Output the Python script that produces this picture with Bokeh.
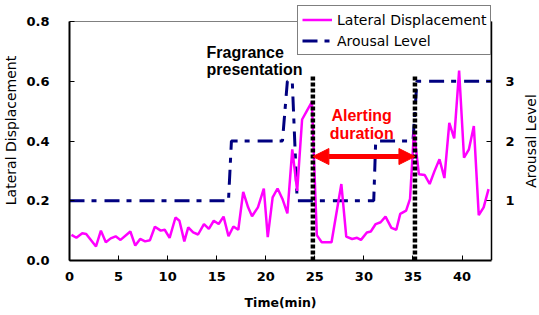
import math
from bokeh.plotting import figure
from bokeh.models import (Range1d, LinearAxis, FixedTicker, PrintfTickFormatter,
                          Legend, LegendItem, Label, Arrow, NormalHead)
from bokeh.embed import file_html
from bokeh.resources import INLINE

# ---- data ----
time_min = [0.2, 0.7, 1.3, 1.7, 2.7, 3.2, 3.7, 4.2, 4.7, 5.2,
            6.2, 6.7, 7.2, 7.7, 8.2, 8.7, 9.3, 9.7, 10.2, 10.8,
            11.2, 11.7, 12.1, 12.6, 13.1, 13.7, 14.2, 14.7, 15.2, 15.7,
            16.2, 16.7, 17.2, 17.7, 18.2, 18.6, 19.2, 19.8, 20.2, 20.7,
            21.2, 21.7, 22.2, 22.7, 23.2, 23.7, 24.2, 24.7, 25.2, 25.7,
            26.7, 27.7, 28.2, 28.8, 29.3, 29.7, 30.3, 30.7, 31.2, 31.7,
            32.2, 32.8, 33.3, 33.7, 34.3, 34.7, 35.1, 35.6, 36.2, 36.7,
            37.2, 37.7, 38.2, 38.7, 39.2, 39.7, 40.2, 40.7, 41.2, 41.7,
            42.2, 42.7]
lateral_disp = [0.086, 0.076, 0.091, 0.089, 0.047, 0.100, 0.061, 0.074, 0.081, 0.069,
                0.097, 0.050, 0.072, 0.064, 0.068, 0.113, 0.100, 0.103, 0.076, 0.144,
                0.133, 0.064, 0.111, 0.094, 0.087, 0.122, 0.106, 0.133, 0.122, 0.147,
                0.081, 0.114, 0.103, 0.230, 0.178, 0.148, 0.178, 0.241, 0.078, 0.211,
                0.241, 0.206, 0.158, 0.372, 0.233, 0.472, 0.502, 0.531, 0.085, 0.061,
                0.061, 0.256, 0.080, 0.072, 0.076, 0.069, 0.094, 0.097, 0.122, 0.128,
                0.147, 0.109, 0.103, 0.156, 0.167, 0.206, 0.433, 0.289, 0.286, 0.256,
                0.300, 0.339, 0.276, 0.461, 0.409, 0.636, 0.344, 0.372, 0.450, 0.152,
                0.178, 0.239]

arousal_time = [0.0, 16.2, 16.5, 21.7, 22.2, 22.7, 23.2, 31.0, 31.2, 35.0, 35.4, 43.0]
arousal_level = [1, 1, 2, 2, 3, 3, 1, 1, 2, 2, 3, 3]

event_times = [24.8, 35.2]          # fragrance presentation / alert
event_top = [0.62, 0.62]
event_bottom = [0.0, 0.0]
arrow_level = 0.348

x_ticks = [0, 5, 10, 15, 20, 25, 30, 35, 40]
y_ticks = [0.0, 0.2, 0.4, 0.6, 0.8]
arousal_ticks = [1, 2, 3]
X_MAX = 43.0
Y_MAX = 0.8
AROUSAL_MAX = 4.0

FONT = "DejaVu Sans"

# The plotting frame covers the whole canvas above the x axis and to the
# right of the y axis, so that the legend (overlapping the top border) and
# the right-hand title are not clipped. Axes are bounded to the data area.
PLOT_W, PLOT_H = 422, 239
FRAME_W, FRAME_H = 470, 260
wx = FRAME_W / PLOT_W
hy = FRAME_H / PLOT_H

p = figure(frame_width=FRAME_W, frame_height=FRAME_H, output_backend="svg",
           toolbar_location=None,
           x_range=Range1d(0, X_MAX * wx), y_range=Range1d(0, Y_MAX * hy),
           min_border_left=69, min_border_right=0, min_border_top=0, min_border_bottom=40)
p.extra_y_ranges = {"arousal": Range1d(0, AROUSAL_MAX * hy)}
p.xgrid.visible = False
p.ygrid.visible = False
p.outline_line_color = None
p.background_fill_color = "white"
p.border_fill_color = "white"

# top border of the plot area
p.segment(x0=[0], y0=[Y_MAX], x1=[X_MAX], y1=[Y_MAX], line_color="#808080", line_width=1)

def style_axis(ax, line_w):
    ax.axis_line_color = "black"
    ax.axis_line_width = line_w
    ax.major_tick_in = 5
    ax.major_tick_out = 0
    ax.major_tick_line_color = "black"
    ax.major_tick_line_width = 1
    ax.minor_tick_line_color = None
    ax.major_label_text_font = FONT
    ax.major_label_text_font_style = "bold"
    ax.major_label_text_font_size = "13px"
    ax.major_label_text_color = "black"
    ax.axis_label_text_font = FONT
    ax.axis_label_text_color = "black"

# bottom axis (title padded with no-break spaces so it centres under the data area)
xa = p.xaxis[0]
style_axis(xa, 2)
xa.bounds = (0, X_MAX)
xa.ticker = FixedTicker(ticks=x_ticks)
xa.axis_label = "Time(min)" + "\u00a0" * 11
xa.axis_label_text_font_style = "bold"
xa.axis_label_text_font_size = "12.5px"
xa.major_label_standoff = 11
xa.axis_label_standoff = 11

# left axis
ya = p.yaxis[0]
style_axis(ya, 2)
ya.bounds = (0, Y_MAX)
ya.ticker = FixedTicker(ticks=y_ticks)
ya.formatter = PrintfTickFormatter(format="%.1f")
ya.axis_label = "Lateral Displacement"
ya.axis_label_text_font_style = "normal"
ya.axis_label_text_font_size = "14px"
ya.major_label_standoff = 20
ya.axis_label_standoff = 4

# right axis, drawn at the right edge of the data area
ra = LinearAxis(y_range_name="arousal", ticker=FixedTicker(ticks=arousal_ticks),
                bounds=(0, AROUSAL_MAX), fixed_location=X_MAX)
style_axis(ra, 1.5)
ra.major_label_standoff = 14
p.add_layout(ra, "right")
p.add_layout(Label(x=X_MAX, y=Y_MAX / 2, x_offset=39, text="Arousal Level",
                   angle=math.pi / 2, text_font=FONT, text_font_size="14px",
                   text_color="black", text_align="center", text_baseline="middle"))

# series
aro = p.line(arousal_time, arousal_level, y_range_name="arousal",
             line_color="#000080", line_width=3, line_dash="15 7 5 8")
mag = p.line(time_min, lateral_disp, line_color="#FF00FF", line_width=2.5)

# event markers
p.segment(x0=event_times, y0=event_bottom, x1=event_times, y1=event_top,
          line_color="black", line_width=4.5, line_dash="4 2")

p.add_layout(Arrow(start=NormalHead(size=16, fill_color="red", line_color="red"),
                   end=NormalHead(size=16, fill_color="red", line_color="red"),
                   x_start=event_times[0], y_start=arrow_level,
                   x_end=event_times[1], y_end=arrow_level,
                   line_color="red", line_width=5))

# annotations
for txt, x, y, col, align in [("Fragrance", 13.96, 0.696, "black", "left"),
                              ("presentation", 13.96, 0.639, "black", "left"),
                              ("Alerting", 29.77, 0.485, "red", "center"),
                              ("duration", 29.77, 0.425, "red", "center")]:
    p.add_layout(Label(x=x, y=y, text=txt, text_font="Liberation Sans",
                       text_font_style="bold", text_font_size="16px",
                       text_color=col, text_align=align, text_baseline="alphabetic"))

legend = Legend(items=[LegendItem(label="Lateral Displacement", renderers=[mag]),
                       LegendItem(label="Arousal Level", renderers=[aro])],
                location=(228, 205))
legend.label_text_font = FONT
legend.label_text_font_size = "14px"
legend.label_text_color = "black"
legend.border_line_color = "black"
legend.border_line_width = 1
legend.background_fill_color = "white"
legend.background_fill_alpha = 1
legend.padding = 4
legend.spacing = 2
legend.margin = 0
legend.glyph_width = 30
legend.glyph_height = 19
legend.label_height = 19
legend.label_standoff = 5
p.add_layout(legend)

open("out.html", "w").write(file_html(p, INLINE))
